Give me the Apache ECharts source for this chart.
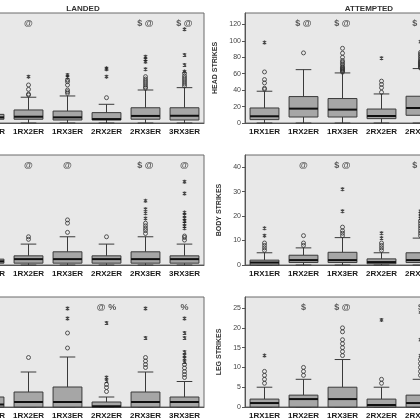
<!DOCTYPE html>
<html>
<head>
<meta charset="utf-8">
<script src="https://cdn.jsdelivr.net/npm/echarts@6/dist/echarts.min.js"></script>
<style>
html, body { margin: 0; padding: 0; background: #fff; }
#chart { width: 420px; height: 420px; }
</style>
</head>
<body>
<div id="chart"></div>
<script>
// categories
var categories = ['1RX1ER', '1RX2ER', '1RX3ER', '2RX2ER', '2RX3ER', '3RX3ER'];

// boxes: [min, q1, median, q3, max] per category
var landedHeadBoxes = [[0, 2.4, 3.6, 5.5, 11], [0, 2.4, 4, 8.3, 16.4], [0, 1.9, 3.6, 7.6, 17.2], [0, 1.9, 2.5, 6.6, 11.9], [0, 2.4, 4.5, 9.7, 21], [0, 1.9, 4.6, 9.7, 22.5]];
var landedHeadOutliers = [[13, 15], [17.8, 18.4, 21.4, 24.2], [18.9, 19.9, 21, 24.2, 26.3, 27.4], [16.1], [22.1, 22.9, 24.2, 25.5, 26.7, 28, 29.5], [23.6, 24.8, 26.1, 27.4, 28.6, 29.9, 31.6]];
var landedHeadExtremes = [[25], [29.5], [29.1, 30.6], [29.5, 34.2, 34.8], [34.2, 39, 40.5, 42.2], [32.7, 36.9, 43.3, 59.6]];
var landedHeadMarks = ['', '@', '', '', '$ @', '$ @'];

var attemptedHeadBoxes = [[0, 4.1, 8.2, 18.3, 38.7], [0, 7.3, 17.5, 32.2, 65], [0, 7.3, 16.3, 29.8, 61], [0, 5.3, 8.5, 17, 35.4], [0, 9.4, 18.3, 32.6, 66.3], [0, 8, 17, 31, 64]];
var attemptedHeadOutliers = [[41, 42.3, 48.8, 52.9, 62.2], [85.4], [62, 63, 64, 65, 66, 67, 68, 70, 72, 74, 76, 80, 85, 91], [37.4, 43, 47, 51], [67, 68, 69, 70, 71, 72, 73, 74, 75, 76, 78, 80, 82, 84, 86], [66, 68, 70, 74, 78]];
var attemptedHeadExtremes = [[98], [], [], [79], [99], [100]];
var attemptedHeadMarks = ['', '$ @', '$ @', '', '$ @', '$ @'];

var landedBodyBoxes = [[0, 0.5, 1, 1.6, 4], [0, 0.5, 1.6, 2.5, 5.7], [0, 0.5, 1.6, 3.6, 7.7], [0, 0.5, 1.6, 2.5, 5.7], [0, 0.5, 1.6, 3.6, 7.7], [0, 0.5, 1.6, 2.5, 5.7]];
var landedBodyOutliers = [[5, 6], [7, 7.7], [8.9, 11.4, 12.3], [7.7], [8.6, 9.4, 10, 10.7, 11.4], [6.8, 7.5, 7.9]];
var landedBodyExtremes = [[9], [], [], [], [12.7, 14.1, 15.2, 17.5], [10, 10.6, 11.4, 12, 12.7, 13.6, 14.3, 19.5, 22.7]];
var landedBodyMarks = ['', '@', '@', '', '$ @', '@'];

var attemptedBodyBoxes = [[0, 0, 1, 2, 5], [0, 1, 2, 4, 7], [0, 1, 2, 5.2, 11.2], [0, 0.5, 1.2, 2.5, 5], [0, 1, 2, 5, 11], [0, 1, 2, 5, 11]];
var attemptedBodyOutliers = [[6, 7, 8, 9], [8, 9, 12], [12, 13, 14, 15.5], [6, 7, 8, 9], [12, 13, 14, 15, 16, 17, 18], [12, 13, 14, 15]];
var attemptedBodyExtremes = [[12, 15], [], [22, 31], [11, 13], [19, 20, 21, 22], [18, 20]];
var attemptedBodyMarks = ['', '@', '$ @', '', '$ @', '$ @'];

var landedLegBoxes = [[0, 0, 0.5, 2, 5], [0, 0, 1, 3, 7], [0, 0, 1, 4, 10], [0, 0, 0.15, 1, 2], [0, 0, 1, 3, 7], [0, 0, 1, 2, 5.1]];
var landedLegOutliers = [[6, 7], [9.9], [11.8, 14.8], [3.1, 3.9, 4.5], [7.9, 8.5, 9.2, 9.9], [5.9, 6.5, 7.1, 7.8, 8.5]];
var landedLegExtremes = [[9], [], [17.7, 19.7], [5.2, 5.9, 16.8], [13.8, 19.7], [9, 9.7, 10.3, 11, 13.8, 14.8, 17.7]];
var landedLegMarks = ['', '', '', '@ %', '', '%'];

var attemptedLegBoxes = [[0, 0, 1, 2, 5], [0, 0, 2, 3, 7], [0, 0, 2, 5, 12], [0, 0, 0.5, 2, 5], [0, 0, 1, 3, 7], [0, 0, 1, 2, 5]];
var attemptedLegOutliers = [[6, 7, 8, 9], [8, 9, 10], [13, 14, 15, 16, 17, 19, 20], [6, 7], [8, 9, 10, 11, 12], [6, 7, 8]];
var attemptedLegExtremes = [[13], [], [], [22], [13, 17, 24], [10, 12]];
var attemptedLegMarks = ['', '$', '$ @', '', '$', '$'];

// y axis ranges
var axisMax = [70, 134, 30, 45, 22, 27.8];
var axisStep = [10, 20, 10, 10, 5, 5];
var axisNames = ['HEAD STRIKES', 'HEAD STRIKES', 'BODY STRIKES', 'BODY STRIKES', 'LEG STRIKES', 'LEG STRIKES'];

var panels = [
    [landedHeadBoxes, landedHeadOutliers, landedHeadExtremes, landedHeadMarks],
    [attemptedHeadBoxes, attemptedHeadOutliers, attemptedHeadExtremes, attemptedHeadMarks],
    [landedBodyBoxes, landedBodyOutliers, landedBodyExtremes, landedBodyMarks],
    [attemptedBodyBoxes, attemptedBodyOutliers, attemptedBodyExtremes, attemptedBodyMarks],
    [landedLegBoxes, landedLegOutliers, landedLegExtremes, landedLegMarks],
    [attemptedLegBoxes, attemptedLegOutliers, attemptedLegExtremes, attemptedLegMarks]
];

var FONT = 'Liberation Sans, Arial, sans-serif';
var rowTop = [13, 155, 297];
var colLeft = [-30, 245];

// SPSS style asterisk for extreme values
var asterisk = 'path://M3.6,0H6.4V10H3.6Z M0,2.6L1.4,0.2L10,7.4L8.6,9.8Z M0,7.4L8.6,0.2L10,2.6L1.4,9.8Z';

function renderBox(params, api) {
    var i = api.value(0);
    var lo = api.coord([i, api.value(1)]);
    var q1 = api.coord([i, api.value(2)]);
    var med = api.coord([i, api.value(3)]);
    var q3 = api.coord([i, api.value(4)]);
    var hi = api.coord([i, api.value(5)]);
    var band = api.size([1, 0])[0];
    var bw = band * 0.74, cw = band * 0.4, cx = lo[0];
    var ln = {stroke: '#3a3a3a', lineWidth: 1};
    return {
        type: 'group',
        children: [
            {type: 'line', shape: {x1: cx, y1: hi[1], x2: cx, y2: q3[1]}, style: ln},
            {type: 'line', shape: {x1: cx, y1: lo[1], x2: cx, y2: q1[1]}, style: ln},
            {type: 'line', shape: {x1: cx - cw / 2, y1: hi[1], x2: cx + cw / 2, y2: hi[1]}, style: ln},
            {type: 'line', shape: {x1: cx - cw / 2, y1: lo[1], x2: cx + cw / 2, y2: lo[1]}, style: ln},
            {type: 'rect', shape: {x: cx - bw / 2, y: q3[1], width: bw, height: q1[1] - q3[1]},
                style: {fill: '#a6a6a6', stroke: '#3a3a3a', lineWidth: 1}},
            {type: 'line', shape: {x1: cx - bw / 2, y1: med[1], x2: cx + bw / 2, y2: med[1]},
                style: {stroke: '#111', lineWidth: 2}}
        ]
    };
}

function flat(lists) {
    var out = [];
    lists.forEach(function (vals, i) {
        vals.forEach(function (v) { out.push([i, v]); });
    });
    return out;
}

var grids = [], xAxes = [], yAxes = [], series = [];
panels.forEach(function (p, k) {
    var row = Math.floor(k / 2), col = k % 2;
    grids.push({
        left: colLeft[col], top: rowTop[row], width: 234, height: 110,
        outerBoundsMode: 'none', containLabel: false,
        show: true, backgroundColor: '#e8e8e8', borderColor: '#6a6a6a', borderWidth: 1
    });
    xAxes.push({
        type: 'category', gridIndex: k, data: categories,
        axisLine: {lineStyle: {color: '#555'}},
        axisTick: {alignWithLabel: true, length: 3, lineStyle: {color: '#555'}},
        axisLabel: {fontSize: 8, fontWeight: 'bold', color: '#1a1a1a', fontFamily: FONT, margin: 5, interval: 0}
    });
    yAxes.push({
        type: 'value', gridIndex: k, min: 0, max: axisMax[k], interval: axisStep[k],
        show: col === 1,
        name: axisNames[k], nameLocation: 'middle', nameGap: 18,
        nameTextStyle: {fontSize: 7, fontWeight: 'bold', color: '#333', fontFamily: FONT},
        axisLine: {show: true, lineStyle: {color: '#555'}},
        axisTick: {show: true, length: 3, lineStyle: {color: '#555'}},
        axisLabel: {fontSize: 7, color: '#444', fontFamily: FONT, margin: 4, showMaxLabel: false},
        splitLine: {show: false}
    });
    series.push({
        type: 'custom', xAxisIndex: k, yAxisIndex: k, renderItem: renderBox,
        encode: {x: 0, y: [1, 2, 3, 4, 5]},
        data: p[0].map(function (b, i) { return [i].concat(b); }),
        z: 2
    });
    series.push({
        type: 'scatter', xAxisIndex: k, yAxisIndex: k, symbol: 'circle', symbolSize: 4,
        itemStyle: {color: 'rgba(0,0,0,0)', borderColor: '#333', borderWidth: 1},
        data: flat(p[1]), z: 3
    });
    series.push({
        type: 'scatter', xAxisIndex: k, yAxisIndex: k, symbol: asterisk, symbolSize: 4,
        itemStyle: {color: '#1a1a1a'},
        data: flat(p[2]), z: 3
    });
    series.push({
        type: 'scatter', xAxisIndex: k, yAxisIndex: k, symbolSize: 0, silent: true,
        data: p[3].map(function (t, i) { return {value: [i, axisMax[k] * 0.9], name: t}; })
            .filter(function (d) { return d.name; }),
        label: {show: true, position: 'inside', formatter: '{b}', fontSize: 9, fontWeight: 'bold',
            color: '#333', fontFamily: FONT},
        z: 4
    });
});

var chart = echarts.init(document.getElementById('chart'));
chart.setOption({
    backgroundColor: '#fff',
    animation: false,
    title: [
        {text: 'LANDED', left: 78, top: 0, textAlign: 'center',
            textStyle: {fontSize: 8, fontWeight: 'bold', color: '#333', fontFamily: FONT}},
        {text: 'ATTEMPTED', left: 364, top: 0, textAlign: 'center',
            textStyle: {fontSize: 8, fontWeight: 'bold', color: '#333', fontFamily: FONT}}
    ],
    grid: grids,
    xAxis: xAxes,
    yAxis: yAxes,
    series: series
});
</script>
</body>
</html>
